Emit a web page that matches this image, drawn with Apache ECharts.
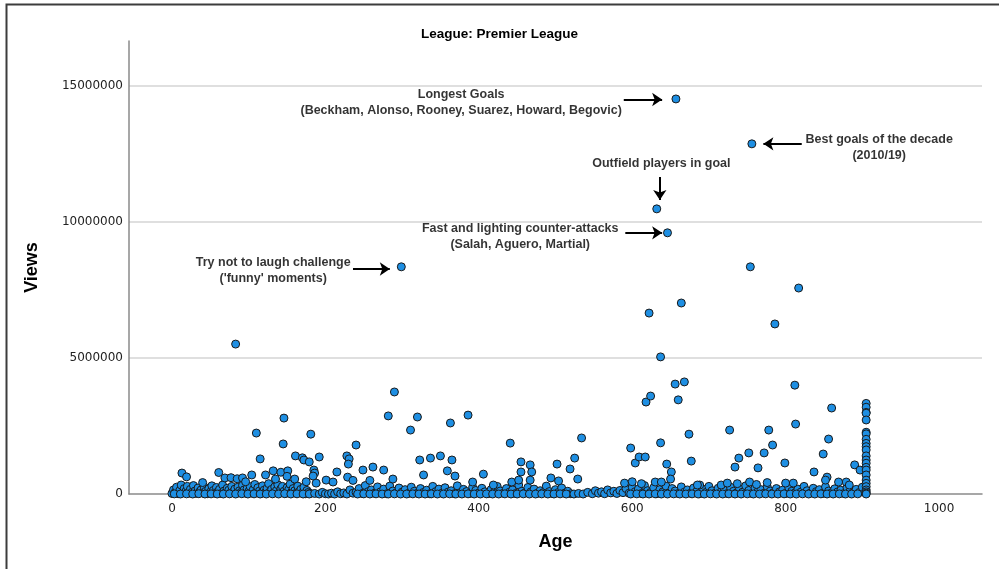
<!DOCTYPE html>
<html>
<head>
<meta charset="utf-8">
<script src="https://cdn.jsdelivr.net/npm/echarts@6/dist/echarts.min.js"></script>
<style>
html,body{margin:0;padding:0;background:#fff;}
#chart{width:999px;height:569px;}
</style>
</head>
<body>
<div id="chart"></div>
<script>
// ---------- DATA ----------
var chartTitle = 'League: Premier League';
var xTickLabels = [0, 200, 400, 600, 800, 1000];
var yTickLabels = [0, 5000000, 10000000, 15000000];

// annotated / high outliers
var topAges  = [657, 756, 632, 646, 299, 83, 754, 817, 664, 622, 786, 637];
var topViews = [14520000, 12870000, 10480000, 9600000, 8350000, 5510000, 8350000, 7570000, 7020000, 6650000, 6250000, 5040000];

// mid-range points (0.3M - 4.2M), left half
var midAgesL  = [290,282,320,311,386,363,146,110,145,181,240,115,161,170,172,179,192,228,231,230,249,262,276,323,337,350,365,359,369,328,406,185,186,184,188,215,201,210,258,288,13,19,61,104,69,77,85,92,132,142,151,135,160,229,236,392,419,122,96,40,150,175];
var midViewsL = [3750000,2870000,2830000,2350000,2900000,2610000,2790000,2240000,1840000,2200000,1800000,1290000,1400000,1330000,1250000,1180000,1360000,1400000,1290000,1100000,880000,990000,880000,1250000,1320000,1400000,1250000,850000,660000,700000,730000,880000,770000,660000,400000,810000,510000,440000,500000,550000,770000,630000,790000,700000,590000,600000,560000,590000,850000,800000,850000,550000,550000,620000,500000,440000,330000,700000,450000,420000,650000,450000];

// mid-range points, right half
var midAgesR  = [441,455,455,467,469,467,443,452,502,494,504,519,525,534,529,598,604,609,617,618,624,637,645,651,650,656,668,660,674,677,727,739,734,752,772,778,783,764,812,813,860,856,849,799,837,854,852,890,897,879,688,716,724,737,753,762,800,869,883,590,600,612,630,638,685,810,776];
var midViewsR = [1870000,1180000,810000,1070000,810000,510000,440000,510000,1100000,590000,480000,920000,1320000,2060000,550000,1690000,1140000,1360000,1360000,3380000,3600000,1880000,1100000,810000,550000,4040000,4120000,3460000,2200000,1210000,2350000,1320000,990000,1510000,1510000,2350000,1800000,960000,4000000,2570000,3160000,2020000,1470000,1140000,810000,620000,510000,1070000,880000,440000,330000,330000,400000,380000,440000,350000,400000,440000,330000,400000,450000,380000,440000,440000,330000,400000,420000];

// vertical column of points at the right edge of the data
var colAge = 905;
var colViews = [3330000,3190000,3000000,2970000,2720000,2270000,2210000,2010000,1860000,1740000,1620000,1400000,1250000,1130000,980000,880000,700000,510000,390000,270000,150000,80000,30000,0];

// dense band near zero
var baseAges = [
0,2,4,6,8,10,12,14,16,18,20,22,24,26,28,30,32,34,36,38,40,42,44,46,48,50,52,54,56,58,60,62,64,66,68,70,72,74,76,78,80,82,84,86,88,90,92,94,96,98,100,102,104,106,108,110,112,114,116,118,120,122,124,126,128,130,132,134,136,138,140,142,144,146,148,150,152,154,156,158,160,162,164,166,168,170,172,174,176,178,180,
3,11,19,27,35,43,51,59,67,75,83,91,99,107,115,123,131,139,147,155,163,171,179,
186,192,196,200,204,208,212,216,220,224,228,232,236,
240,244,248,252,256,260,264,268,272,276,280,284,288,292,296,300,304,308,312,316,320,324,328,332,336,340,344,348,352,356,360,364,368,372,376,380,384,388,392,396,400,404,408,412,416,420,424,428,432,436,440,444,448,452,456,460,464,468,472,476,480,484,488,492,496,500,504,508,512,516,520,
242,250,258,266,274,282,290,298,306,314,322,330,338,346,354,362,370,378,386,394,402,410,418,426,434,442,450,458,466,474,482,490,498,506,514,
524,530,536,542,548,552,556,560,564,568,572,576,580,584,588,592,
596,600,604,608,612,616,620,624,628,632,636,640,644,648,652,656,660,664,668,672,676,680,684,688,692,696,700,704,708,712,716,720,724,728,732,736,740,744,748,752,756,760,764,768,772,776,780,784,788,792,796,800,804,808,812,816,820,824,828,832,836,840,844,848,852,856,860,864,868,872,876,880,884,888,892,896,900,
598,606,614,622,630,638,646,654,662,670,678,686,694,702,710,718,726,734,742,750,758,766,774,782,790,798,806,814,822,830,838,846,854,862,870,878,886,894
];
var baseViews = [
20000,150000,60000,250000,10000,120000,330000,40000,200000,90000,280000,30000,170000,60000,310000,110000,20000,220000,80000,150000,40000,260000,100000,10000,190000,70000,300000,130000,30000,240000,90000,170000,20000,330000,110000,50000,210000,140000,30000,280000,80000,180000,20000,250000,120000,60000,320000,150000,30000,200000,90000,270000,40000,160000,350000,70000,230000,110000,20000,300000,140000,60000,210000,380000,90000,170000,30000,260000,120000,340000,50000,190000,280000,100000,20000,230000,150000,360000,70000,200000,120000,30000,290000,90000,170000,40000,250000,10000,130000,60000,20000,
5000,0,5000,0,10000,0,5000,0,0,5000,0,10000,0,5000,0,0,5000,0,10000,0,5000,0,0,
20000,0,60000,10000,0,30000,0,80000,10000,40000,0,150000,30000,
60000,200000,20000,310000,90000,150000,30000,260000,80000,180000,10000,290000,110000,40000,220000,70000,160000,20000,250000,100000,30000,200000,60000,140000,10000,280000,90000,180000,30000,230000,70000,120000,10000,300000,50000,170000,90000,20000,250000,130000,40000,210000,80000,10000,160000,60000,280000,110000,30000,200000,70000,150000,20000,330000,100000,40000,240000,80000,180000,20000,120000,50000,290000,90000,20000,160000,60000,220000,30000,100000,10000,
0,5000,0,5000,0,0,5000,0,0,5000,0,0,5000,0,0,5000,0,0,5000,0,0,5000,0,0,5000,0,0,5000,0,0,5000,0,0,5000,0,
0,20000,0,60000,10000,120000,30000,80000,10000,150000,40000,100000,20000,130000,50000,200000,
30000,250000,90000,180000,20000,310000,120000,60000,230000,10000,160000,80000,290000,40000,200000,110000,20000,260000,70000,150000,30000,220000,90000,10000,180000,60000,280000,120000,30000,210000,80000,150000,20000,250000,100000,40000,190000,70000,300000,130000,20000,220000,90000,160000,30000,270000,110000,50000,200000,80000,140000,20000,240000,100000,40000,180000,70000,280000,120000,30000,210000,90000,160000,20000,260000,110000,50000,190000,80000,140000,20000,230000,100000,40000,170000,60000,250000,
0,5000,0,0,5000,0,0,5000,0,0,5000,0,0,5000,0,0,5000,0,0,5000,0,0,5000,0,0,5000,0,0,5000,0,0,5000,0,0,5000,0,0,5000
];

// annotation texts (centre positions in data space) and arrows
var noteTexts = [
  'Longest Goals\n(Beckham, Alonso, Rooney, Suarez, Howard, Begovic)',
  'Best goals of the decade\n(2010/19)',
  'Outfield players in goal',
  'Fast and lighting counter-attacks\n(Salah, Aguero, Martial)',
  "Try not to laugh challenge\n('funny' moments)"
];
var noteAges  = [377, 922, 638, 454, 132];
var noteViews = [14390000, 12740000, 12130000, 9470000, 8200000];
var arrowFromAge  = [589, 821, 636, 591, 236];
var arrowFromView = [14500000, 12870000, 11650000, 9600000, 8270000];
var arrowToAge    = [639, 771, 636, 639, 284];
var arrowToView   = [14500000, 12870000, 10810000, 9600000, 8270000];

// ---------- BUILD ----------
function zip(xs, ys) { return xs.map(function (x, i) { return [x, ys[i]]; }); }
var points = []
  .concat(zip(baseAges, baseViews))
  .concat(zip(midAgesL, midViewsL))
  .concat(zip(midAgesR, midViewsR))
  .concat(colViews.map(function (v) { return [colAge, v]; }))
  .concat(zip(topAges, topViews));

var notePoints = noteAges.map(function (a, i) { return { value: [a, noteViews[i]], name: noteTexts[i] }; });
var arrows = arrowFromAge.map(function (a, i) {
  return [{ coord: [a, arrowFromView[i]] }, { coord: [arrowToAge[i], arrowToView[i]] }];
});

var chart = echarts.init(document.getElementById('chart'), null, { renderer: 'canvas' });
var option = {
  animation: false,
  backgroundColor: '#ffffff',
  title: {
    text: chartTitle,
    left: 'center',
    top: 22,
    textStyle: { fontFamily: 'Liberation Sans', fontSize: 13.5, fontWeight: 'bold', color: '#000' }
  },
  graphic: [{
    type: 'rect',
    shape: { x: 6.5, y: 4.5, width: 1200, height: 800 },
    style: { fill: 'none', stroke: '#3c3c3c', lineWidth: 2 },
    silent: true
  }],
  grid: { left: 129, right: 17, top: 41, bottom: 75 },
  xAxis: {
    type: 'value',
    min: -56,
    max: 1056,
    name: 'Age',
    nameLocation: 'middle',
    nameGap: 39,
    nameTextStyle: { fontFamily: 'Liberation Sans', fontSize: 18, fontWeight: 'bold', color: '#000' },
    axisLine: { show: true, onZero: false, lineStyle: { color: '#8a8a8a', width: 1.5 } },
    axisTick: { show: false },
    splitLine: { show: false },
    axisLabel: {
      customValues: xTickLabels,
      margin: 9,
      fontFamily: 'DejaVu Sans',
      fontSize: 12,
      color: '#222',
      formatter: function (v) { return String(v); }
    }
  },
  yAxis: {
    type: 'value',
    min: 0,
    max: 16650000,
    interval: 5000000,
    name: 'Views',
    nameLocation: 'middle',
    nameGap: 88,
    nameTextStyle: { fontFamily: 'Liberation Sans', fontSize: 18, fontWeight: 'bold', color: '#000' },
    axisLine: { show: true, onZero: false, lineStyle: { color: '#8a8a8a', width: 1.5 } },
    axisTick: { show: false },
    splitLine: { show: true, showMinLine: false, showMaxLine: false, lineStyle: { color: '#d4d4d4', width: 1.5 } },
    axisLabel: {
      showMaxLabel: false,
      margin: 6,
      fontFamily: 'DejaVu Sans',
      fontSize: 12,
      color: '#222',
      formatter: function (v) { return yTickLabels.indexOf(v) >= 0 ? String(v) : ''; }
    }
  },
  series: [
    {
      type: 'scatter',
      name: 'Views',
      data: points,
      symbol: 'circle',
      symbolSize: 8,
      itemStyle: { color: '#1e8fe3', borderColor: '#1a1a1a', borderWidth: 1, opacity: 1 },
      z: 3
    },
    {
      type: 'scatter',
      name: 'notes',
      data: notePoints,
      symbolSize: 1,
      itemStyle: { color: 'rgba(0,0,0,0)' },
      silent: true,
      z: 4,
      label: {
        show: true,
        position: 'inside',
        formatter: function (p) { return p.name; },
        fontFamily: 'Liberation Sans',
        fontSize: 12.5,
        fontWeight: 'bold',
        color: '#000',
        align: 'center',
        verticalAlign: 'middle',
        lineHeight: 16
      },
      markLine: {
        silent: true,
        symbol: ['none', 'arrow'],
        symbolSize: [10, 10],
        label: { show: false },
        lineStyle: { color: '#000', width: 2, type: 'solid' },
        data: arrows
      }
    }
  ]
};
chart.setOption(option);
</script>
</body>
</html>
